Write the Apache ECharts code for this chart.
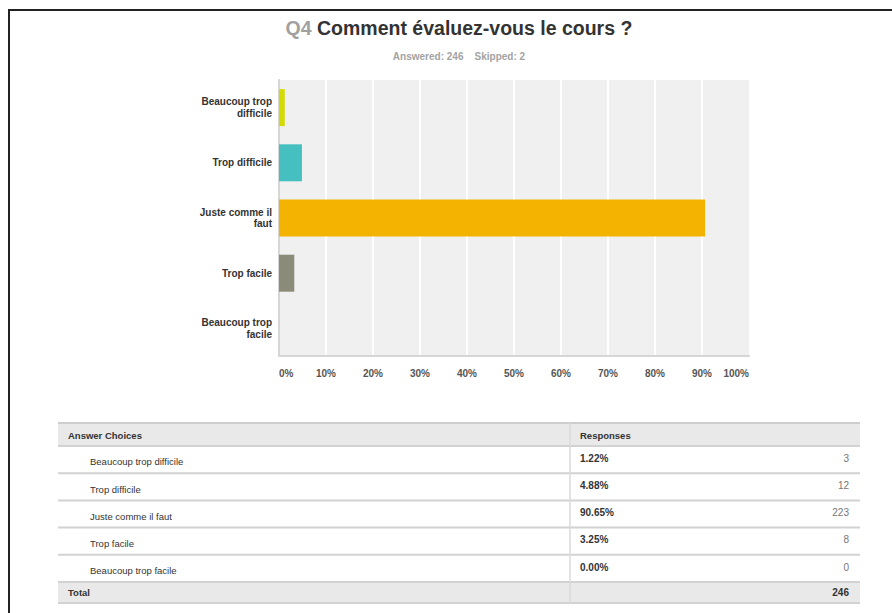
<!DOCTYPE html>
<html>
<head>
<meta charset="utf-8">
<script src="https://cdn.jsdelivr.net/npm/echarts@6/dist/echarts.min.js"></script>
<style>
  html, body { margin: 0; padding: 0; background: #ffffff; }
  #chart { width: 892px; height: 613px; }
</style>
</head>
<body>
<div id="chart"></div>
<script>
// ---- data ----
const categories = ['Beaucoup trop difficile', 'Trop difficile', 'Juste comme il faut', 'Trop facile', 'Beaucoup trop facile'];
const axisCategoryLabels = ['Beaucoup trop\ndifficile', 'Trop difficile', 'Juste comme il\nfaut', 'Trop facile', 'Beaucoup trop\nfacile'];
const percents = [1.22, 4.88, 90.65, 3.25, 0.00];
const counts = [3, 12, 223, 8, 0];
const answered = 246;
const skipped = 2;
const totalCount = 246;
const xTickMin = 0, xTickMax = 100, xTickStep = 10;
const titleNumber = 'Q4';
const titleText = 'Comment évaluez-vous le cours ?';
const tableHeaders = ['Answer Choices', 'Responses'];
const totalLabel = 'Total';
const barColors = ['#d4db00', '#46bfc1', '#f4b300', '#8b8b79'];

// ---- rendering ----
const FONT = '"Liberation Sans", Arial, Helvetica, sans-serif';
const chart = echarts.init(document.getElementById('chart'), null, { renderer: 'svg' });

const g = [];
// page frame
g.push({ type: 'line', shape: { x1: 8, y1: 10, x2: 892, y2: 10 }, style: { stroke: '#222', lineWidth: 2 } });
g.push({ type: 'line', shape: { x1: 9, y1: 10, x2: 9, y2: 613 }, style: { stroke: '#222', lineWidth: 2 } });

// titles
g.push({
  type: 'text',
  style: {
    text: '{q|' + titleNumber + '} {t|' + titleText + '}',
    x: 459, y: 28, align: 'center', verticalAlign: 'middle',
    rich: {
      q: { fontFamily: FONT, fontSize: 19.5, fontWeight: 'bold', fill: '#a0a0a0' },
      t: { fontFamily: FONT, fontSize: 19.5, fontWeight: 'bold', fill: '#333333' }
    },
    font: 'bold 19.5px ' + FONT
  }
});
g.push({
  type: 'text',
  style: {
    text: 'Answered: ' + answered + '    Skipped: ' + skipped,
    x: 459, y: 56, align: 'center', verticalAlign: 'middle',
    fill: '#a3a3a3', font: 'bold 10px ' + FONT
  }
});

// table
const tX0 = 58, tX1 = 860, tDiv = 570, tTop = 423, headBottom = 446, rowH = 27.2;
const totTop = headBottom + rowH * categories.length;
const tBottom = totTop + 21;
g.push({ type: 'rect', shape: { x: tX0, y: tTop, width: tX1 - tX0, height: headBottom - tTop }, style: { fill: '#e9e9e9' } });
g.push({ type: 'rect', shape: { x: tX0, y: totTop, width: tX1 - tX0, height: tBottom - totTop }, style: { fill: '#e9e9e9' } });
g.push({ type: 'line', shape: { x1: tX0, y1: tTop, x2: tX1, y2: tTop }, style: { stroke: '#cdcdcd', lineWidth: 2 } });
for (let i = 0; i <= categories.length; i++) {
  const y = headBottom + rowH * i;
  g.push({ type: 'line', shape: { x1: tX0, y1: y, x2: tX1, y2: y }, style: { stroke: '#d2d2d2', lineWidth: 2 } });
}
g.push({ type: 'line', shape: { x1: tX0, y1: tBottom, x2: tX1, y2: tBottom }, style: { stroke: '#d2d2d2', lineWidth: 2 } });
g.push({ type: 'line', shape: { x1: tDiv, y1: tTop, x2: tDiv, y2: tBottom }, style: { stroke: '#dadada', lineWidth: 1.5 } });

g.push({ type: 'text', style: { text: tableHeaders[0], x: 68, y: 435, verticalAlign: 'middle', fill: '#333', font: 'bold 9.5px ' + FONT } });
g.push({ type: 'text', style: { text: tableHeaders[1], x: 580, y: 435, verticalAlign: 'middle', fill: '#333', font: 'bold 9.5px ' + FONT } });
categories.forEach(function (c, i) {
  const top = headBottom + rowH * i;
  g.push({ type: 'text', style: { text: c, x: 90, y: top + 15.8, verticalAlign: 'middle', fill: '#333', font: '9.5px ' + FONT } });
  g.push({ type: 'text', style: { text: percents[i].toFixed(2) + '%', x: 580, y: top + 12.3, verticalAlign: 'middle', fill: '#333', font: 'bold 10px ' + FONT } });
  g.push({ type: 'text', style: { text: String(counts[i]), x: 849, y: top + 12.3, align: 'right', verticalAlign: 'middle', fill: '#777', font: '10px ' + FONT } });
});
g.push({ type: 'text', style: { text: totalLabel, x: 68, y: totTop + 10.5, verticalAlign: 'middle', fill: '#333', font: 'bold 9.5px ' + FONT } });
g.push({ type: 'text', style: { text: String(totalCount), x: 849, y: totTop + 10.5, align: 'right', verticalAlign: 'middle', fill: '#333', font: 'bold 10px ' + FONT } });

chart.setOption({
  backgroundColor: '#ffffff',
  animation: false,
  grid: {
    left: 279, right: 143, top: 80, bottom: 257,
    show: true, backgroundColor: '#eff0ef', borderWidth: 0
  },
  xAxis: {
    type: 'value', min: xTickMin, max: xTickMax, interval: xTickStep,
    axisLine: { show: true, onZero: false, lineStyle: { color: '#d6d6d6', width: 2 } },
    axisTick: { show: false },
    splitLine: { show: true, showMinLine: false, showMaxLine: false, lineStyle: { color: '#ffffff', width: 2 } },
    axisLabel: {
      formatter: '{value}%', margin: 12,
      fontFamily: FONT, fontSize: 10, fontWeight: 'bold', color: '#555',
      alignMinLabel: 'left', alignMaxLabel: 'right'
    }
  },
  yAxis: {
    type: 'category', data: axisCategoryLabels, inverse: true,
    axisLine: { show: true, lineStyle: { color: '#d6d6d6', width: 2 } },
    axisTick: { show: false },
    splitLine: { show: false },
    axisLabel: {
      margin: 7, fontFamily: FONT, fontSize: 10, fontWeight: 'bold', color: '#333',
      lineHeight: 11.5, align: 'right'
    }
  },
  series: [{
    type: 'bar',
    data: percents.map(function (v, i) {
      return { value: v, itemStyle: { color: barColors[i % barColors.length] } };
    }),
    barWidth: '67%',
    silent: true
  }],
  graphic: { elements: g }
});
</script>
</body>
</html>
